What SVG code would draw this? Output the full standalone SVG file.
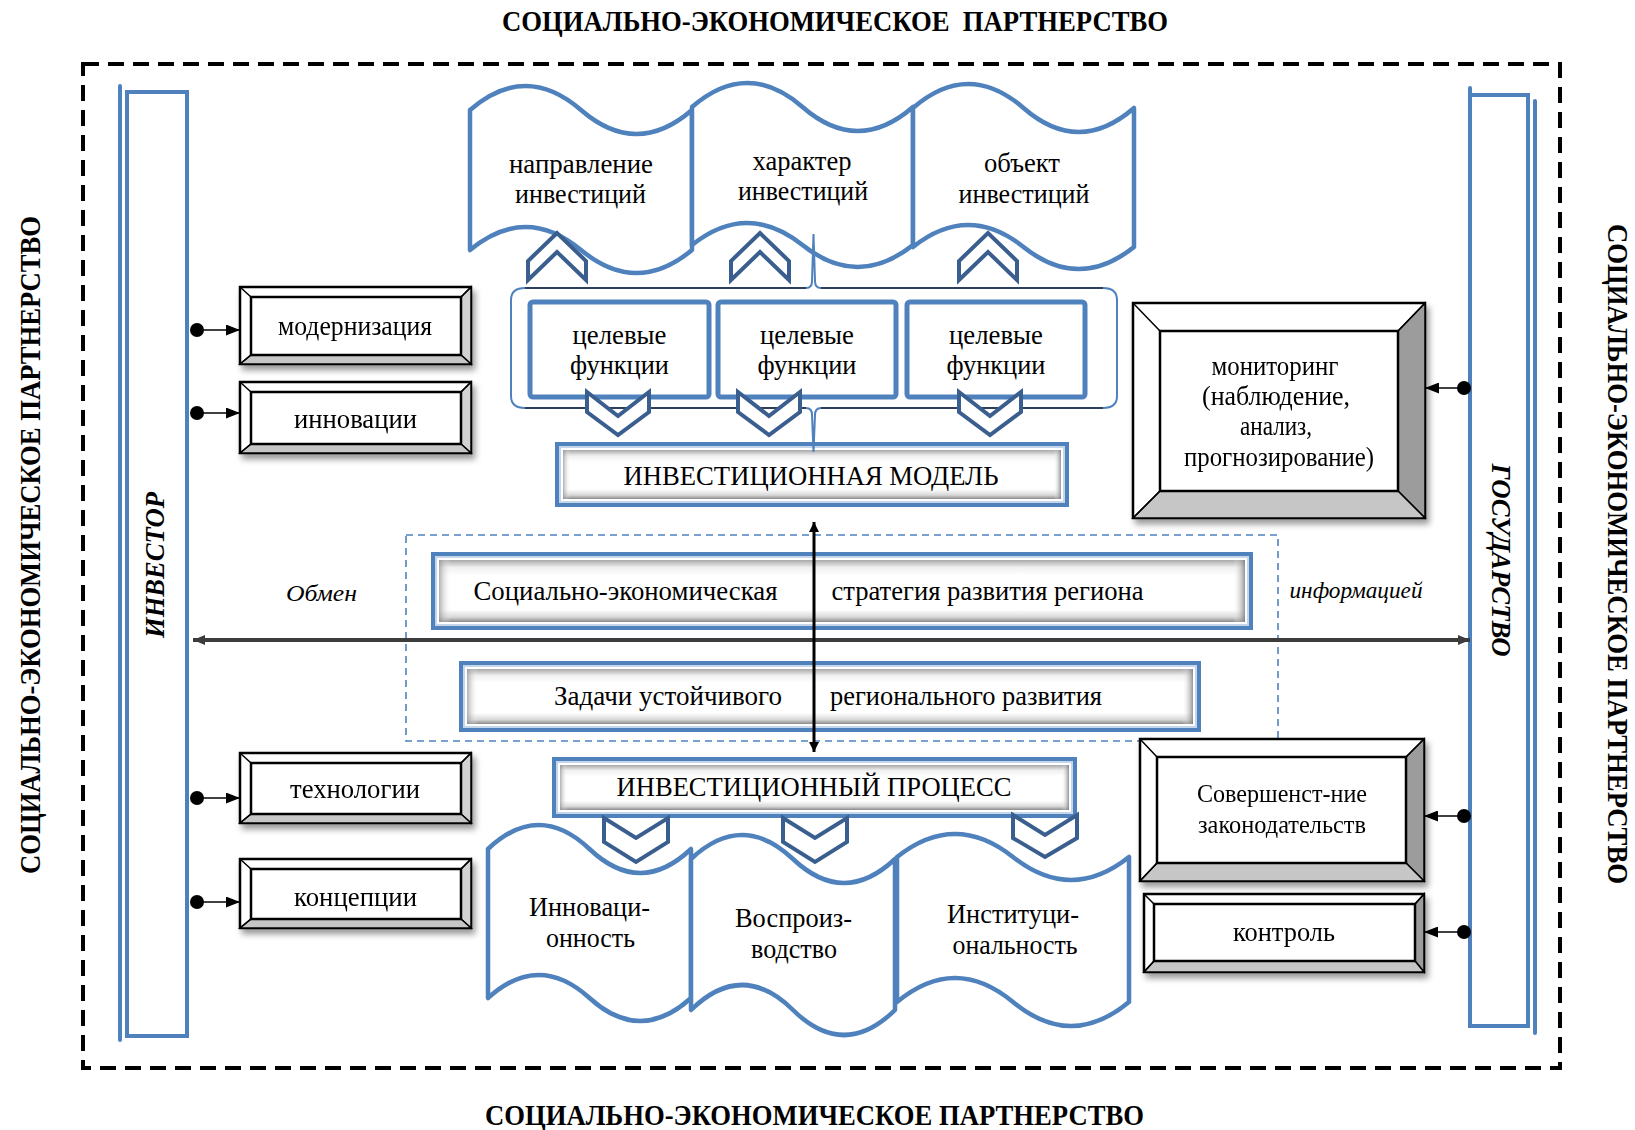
<svg xmlns="http://www.w3.org/2000/svg" width="1635" height="1130" viewBox="0 0 1635 1130">
<defs>
<style>
.tx{font-family:"Liberation Serif","Times New Roman",serif;fill:#000;text-anchor:middle;font-size:28px}
.cap{font-size:27px}
.ttl{font-weight:bold;font-size:29px}
.bit{font-weight:bold;font-style:italic;font-size:27px}
.it{font-style:italic;font-size:23px}
.sm{font-size:25px}
.md{font-size:27px}
.border{fill:none;stroke:#000;stroke-width:4;stroke-dasharray:16 9}
.bar{fill:#fff;stroke:#4f81bd;stroke-width:4}
.barl{fill:none;stroke:#4f81bd;stroke-width:4;stroke-linecap:round}
.wave{fill:#fff;stroke:#4f81bd;stroke-width:4.5;stroke-linejoin:round}
.chev{fill:#fff;stroke:#3a5f8f;stroke-width:4}
.tf{fill:#fff;stroke:#4f81bd;stroke-width:5}
.brace{fill:none;stroke:#2e3f5c;stroke-width:1.8}
.bracetip{fill:none;stroke:#4f81bd;stroke-width:2}
.bo{fill:#fff;stroke:#000;stroke-width:2.5}
.in{fill:#fff;stroke:#000;stroke-width:2.5}
.dg{stroke:#000;stroke-width:1.5;fill:none}
.gl{fill:#d2d2d2;stroke:#000;stroke-width:1.5}
.gb{fill:#c6c6c6;stroke:#000;stroke-width:1.5}
.gd{fill:#9c9c9c;stroke:#000;stroke-width:1.5}
.zone{fill:none;stroke:#4f81bd;stroke-width:1.6;stroke-dasharray:7 5}
.cn{stroke:#000;stroke-width:1.5;fill:none}
.dot{fill:#000}
.ex{stroke:#3c3c3c;stroke-width:4;fill:none}
.vx{stroke:#000;stroke-width:3;fill:none}
</style>
<linearGradient id="gv" x1="0" y1="0" x2="0" y2="1">
<stop offset="0" stop-color="#a8a8a8"/>
<stop offset="0.12" stop-color="#f0f0f0"/>
<stop offset="0.25" stop-color="#fff"/>
<stop offset="0.8" stop-color="#fff"/>
<stop offset="0.92" stop-color="#d8d8d8"/>
<stop offset="1" stop-color="#8a8a8a"/>
</linearGradient>
<linearGradient id="gh" x1="0" y1="0" x2="1" y2="0">
<stop offset="0" stop-color="#8f8f8f" stop-opacity="0.7"/>
<stop offset="0.015" stop-color="#fff" stop-opacity="0"/>
<stop offset="0.985" stop-color="#fff" stop-opacity="0"/>
<stop offset="1" stop-color="#7a7a7a" stop-opacity="0.8"/>
</linearGradient>
<filter id="sh" x="-10%" y="-10%" width="130%" height="140%">
<feDropShadow dx="3" dy="5" stdDeviation="3" flood-color="#000" flood-opacity="0.4"/>
</filter>
<marker id="ah" viewBox="0 0 14 11" refX="14" refY="5.5" markerWidth="14" markerHeight="11" markerUnits="userSpaceOnUse" orient="auto">
<path d="M0 0L14 5.5L0 11z" fill="#000"/>
</marker>
<marker id="ahx" viewBox="0 0 12 10" refX="12" refY="5" markerWidth="12" markerHeight="10" markerUnits="userSpaceOnUse" orient="auto-start-reverse">
<path d="M0 0L12 5L0 10z" fill="#3c3c3c"/>
</marker>
<marker id="ahv" viewBox="0 0 10 10" refX="10" refY="5" markerWidth="10" markerHeight="10" markerUnits="userSpaceOnUse" orient="auto-start-reverse">
<path d="M0 0L10 5L0 10z" fill="#000"/>
</marker>
</defs>

<rect width="1635" height="1130" fill="#fff"/>

<!-- partnership frame and its four captions -->
<g id="partnership">
<rect class="border" x="83" y="64" width="1477" height="1004"/>
<text class="tx ttl" x="835" y="31" textLength="666" lengthAdjust="spacingAndGlyphs" style="white-space:pre">СОЦИАЛЬНО-ЭКОНОМИЧЕСКОЕ  ПАРТНЕРСТВО</text>
<text class="tx ttl" x="814.5" y="1125" textLength="659" lengthAdjust="spacingAndGlyphs">СОЦИАЛЬНО-ЭКОНОМИЧЕСКОЕ ПАРТНЕРСТВО</text>
<text class="tx ttl" transform="translate(40 545) rotate(-90)" textLength="658" lengthAdjust="spacingAndGlyphs">СОЦИАЛЬНО-ЭКОНОМИЧЕСКОЕ ПАРТНЕРСТВО</text>
<text class="tx ttl" transform="translate(1608 554) rotate(90)" textLength="660" lengthAdjust="spacingAndGlyphs">СОЦИАЛЬНО-ЭКОНОМИЧЕСКОЕ ПАРТНЕРСТВО</text>
</g>

<!-- investor scroll -->
<g id="investor">
<rect class="bar" x="127" y="92" width="60" height="944"/>
<line class="barl" x1="120" y1="86" x2="120" y2="1040"/>
<text class="tx bit" transform="translate(164 565) rotate(-90)" textLength="146" lengthAdjust="spacingAndGlyphs">ИНВЕСТОР</text>
</g>

<!-- state scroll -->
<g id="state">
<rect class="bar" x="1470" y="95" width="58" height="931"/>
<line class="barl" x1="1470" y1="88" x2="1470" y2="96"/>
<line class="barl" x1="1535" y1="101" x2="1535" y2="1033"/>
<text class="tx bit" transform="translate(1492 560) rotate(90)" textLength="193" lengthAdjust="spacingAndGlyphs">ГОСУДАРСТВО</text>
</g>

<!-- investment banners (top) -->
<g id="banner-direction">
<path class="wave" d="M470 110Q525.5 62 581 110T692 110L692 250Q636.5 296 581 250T470 250Z"/>
<text class="tx" x="581" y="173" textLength="144" lengthAdjust="spacingAndGlyphs">направление</text>
<text class="tx" x="580.5" y="203" textLength="131" lengthAdjust="spacingAndGlyphs">инвестиций</text>
</g>
<g id="banner-character">
<path class="wave" d="M692 107Q747.25 59 802.5 107T913 107L913 245Q857.75 289 802.5 245T692 245Z"/>
<text class="tx" x="802" y="170" textLength="99" lengthAdjust="spacingAndGlyphs">характер</text>
<text class="tx" x="803" y="200" textLength="130" lengthAdjust="spacingAndGlyphs">инвестиций</text>
</g>
<g id="banner-object">
<path class="wave" d="M913 108Q968.25 60 1023.5 108T1134 108L1134 247Q1078.75 291 1023.5 247T913 247Z"/>
<text class="tx" x="1022" y="172" textLength="76" lengthAdjust="spacingAndGlyphs">объект</text>
<text class="tx" x="1024" y="203" textLength="131" lengthAdjust="spacingAndGlyphs">инвестиций</text>
</g>

<!-- upward chevrons -->
<g id="chevrons-up">
<polygon class="chev" points="528,280 528,261 557,233 586,261 586,280 557,252"/>
<polygon class="chev" points="731,280 731,261 760,233 789,261 789,280 760,252"/>
<polygon class="chev" points="959,280 959,261 988,233 1017,261 1017,280 988,252"/>
</g>

<!-- investment model -->
<g id="model">
<rect x="555" y="442" width="514" height="65" fill="#4f81bd"/>
<rect x="559" y="446" width="506" height="57" fill="#c5d5ea"/>
<rect x="561" y="448" width="502" height="53" fill="#fff"/>
<rect x="563" y="450" width="498" height="49" fill="url(#gv)"/>
<rect x="563" y="450" width="498" height="49" fill="url(#gh)"/>
<text class="tx cap" x="811" y="485" textLength="375" lengthAdjust="spacingAndGlyphs">ИНВЕСТИЦИОННАЯ МОДЕЛЬ</text>
</g>

<!-- brace around the target functions -->
<g id="brace">
<path class="brace" d="M525 288L806 288M821 288L1103 288M525 408L806 408M821 408L1103 408"/>
<path class="bracetip" d="M806 288Q812 288 812 281L813.5 234M821 288Q815 288 815 281L813.5 234"/>
<path class="bracetip" d="M806 408Q812 408 812 415L813.5 452M821 408Q815 408 815 415L813.5 452"/>
<path class="bracetip" d="M525 288Q511 288 511 300L511 396Q511 408 525 408M1103 288Q1117 288 1117 300L1117 396Q1117 408 1103 408"/>
</g>

<!-- target functions -->
<g id="func-1">
<rect class="tf" x="530" y="302" width="179" height="95" rx="3"/>
<text class="tx" x="619.5" y="344" textLength="94" lengthAdjust="spacingAndGlyphs">целевые</text>
<text class="tx" x="619.5" y="374" textLength="99" lengthAdjust="spacingAndGlyphs">функции</text>
</g>
<g id="func-2">
<rect class="tf" x="718" y="302" width="178" height="95" rx="3"/>
<text class="tx" x="807" y="344" textLength="94" lengthAdjust="spacingAndGlyphs">целевые</text>
<text class="tx" x="807" y="374" textLength="99" lengthAdjust="spacingAndGlyphs">функции</text>
</g>
<g id="func-3">
<rect class="tf" x="907" y="302" width="178" height="95" rx="3"/>
<text class="tx" x="996" y="344" textLength="94" lengthAdjust="spacingAndGlyphs">целевые</text>
<text class="tx" x="996" y="374" textLength="99" lengthAdjust="spacingAndGlyphs">функции</text>
</g>

<!-- downward chevrons under the functions -->
<g id="chevrons-down-1">
<polygon class="chev" points="587,392 618,416 649,392 649,412 618,435 587,412"/>
<polygon class="chev" points="738,392 769,416 800,392 800,412 769,435 738,412"/>
<polygon class="chev" points="959,392 990,416 1021,392 1021,412 990,435 959,412"/>
</g>

<!-- strategy zone -->
<g id="zone">
<rect class="zone" x="406" y="535" width="872" height="206"/>
</g>
<g id="strategy">
<rect x="431" y="552" width="822" height="78" fill="#4f81bd"/>
<rect x="435" y="556" width="814" height="70" fill="#c5d5ea"/>
<rect x="437" y="558" width="810" height="66" fill="#fff"/>
<rect x="439" y="560" width="806" height="62" fill="url(#gv)"/>
<rect x="439" y="560" width="806" height="62" fill="url(#gh)"/>
<text class="tx" x="625.5" y="600" textLength="304" lengthAdjust="spacingAndGlyphs">Социально-экономическая</text>
<text class="tx" x="987.5" y="600" textLength="312" lengthAdjust="spacingAndGlyphs">стратегия развития региона</text>
</g>
<g id="tasks">
<rect x="459" y="661" width="742" height="71" fill="#4f81bd"/>
<rect x="463" y="665" width="734" height="63" fill="#c5d5ea"/>
<rect x="465" y="667" width="730" height="59" fill="#fff"/>
<rect x="467" y="669" width="726" height="55" fill="url(#gv)"/>
<rect x="467" y="669" width="726" height="55" fill="url(#gh)"/>
<text class="tx" x="668" y="705" textLength="228" lengthAdjust="spacingAndGlyphs">Задачи устойчивого</text>
<text class="tx" x="966" y="705" textLength="272" lengthAdjust="spacingAndGlyphs">регионального развития</text>
</g>
<text class="tx it" x="321.5" y="601" textLength="71" lengthAdjust="spacingAndGlyphs">Обмен</text>
<text class="tx it" x="1356" y="598" textLength="133" lengthAdjust="spacingAndGlyphs">информацией</text>

<!-- investment process -->
<g id="process">
<rect x="552" y="757" width="525" height="61" fill="#4f81bd"/>
<rect x="556" y="761" width="517" height="53" fill="#c5d5ea"/>
<rect x="558" y="763" width="513" height="49" fill="#fff"/>
<rect x="560" y="765" width="509" height="45" fill="url(#gv)"/>
<rect x="560" y="765" width="509" height="45" fill="url(#gh)"/>
<text class="tx cap" x="814" y="796" textLength="395" lengthAdjust="spacingAndGlyphs">ИНВЕСТИЦИОННЫЙ ПРОЦЕСС</text>
</g>

<!-- process banners (bottom) -->
<g id="banner-innovation">
<path class="wave" d="M488 849Q538.75 801 589.5 849T691 849L691 998Q640.25 1044 589.5 998T488 998Z"/>
<text class="tx" x="589.5" y="916" textLength="121" lengthAdjust="spacingAndGlyphs">Инноваци-</text>
<text class="tx" x="590.5" y="947" textLength="89" lengthAdjust="spacingAndGlyphs">онность</text>
</g>
<g id="banner-reproduction">
<path class="wave" d="M691 859Q742 811 793 859T895 859L895 1010Q844 1060 793 1010T691 1010Z"/>
<text class="tx" x="793.5" y="927" textLength="117" lengthAdjust="spacingAndGlyphs">Воспроиз-</text>
<text class="tx" x="794" y="958" textLength="86" lengthAdjust="spacingAndGlyphs">водство</text>
</g>
<g id="banner-institution">
<path class="wave" d="M897 857Q955 811 1013 857T1129 857L1129 1002Q1071 1050 1013 1002T897 1002Z"/>
<text class="tx" x="1013" y="923" textLength="132" lengthAdjust="spacingAndGlyphs">Институци-</text>
<text class="tx" x="1015" y="954" textLength="125" lengthAdjust="spacingAndGlyphs">ональность</text>
</g>

<!-- downward chevrons under the process -->
<g id="chevrons-down-2">
<polygon class="chev" points="604,818 636,838 668,818 668,842 636,862 604,842"/>
<polygon class="chev" points="783,818 815,838 847,818 847,842 815,862 783,842"/>
<polygon class="chev" points="1013,815 1045,835 1077,815 1077,838 1045,857 1013,838"/>
</g>

<!-- investor instruments -->
<g id="modernization" filter="url(#sh)">
<rect class="bo" x="240" y="287" width="231" height="77"/>
<polygon class="gl" points="471,287 471,364 461,355 461,297"/>
<polygon class="gb" points="240,364 471,364 461,355 251,355"/>
<path class="dg" d="M240 287L251 297M471 287L461 297M240 364L251 355"/>
<rect class="in" x="251" y="297" width="210" height="58"/>
<text class="tx" x="355" y="335" textLength="154" lengthAdjust="spacingAndGlyphs">модернизация</text>
</g>
<g id="innovations" filter="url(#sh)">
<rect class="bo" x="240" y="382" width="231" height="71"/>
<polygon class="gl" points="471,382 471,453 461,444 461,392"/>
<polygon class="gb" points="240,453 471,453 461,444 251,444"/>
<path class="dg" d="M240 382L251 392M471 382L461 392M240 453L251 444"/>
<rect class="in" x="251" y="392" width="210" height="52"/>
<text class="tx" x="355.5" y="428" textLength="123" lengthAdjust="spacingAndGlyphs">инновации</text>
</g>
<g id="technologies" filter="url(#sh)">
<rect class="bo" x="240" y="753" width="231" height="70"/>
<polygon class="gl" points="471,753 471,823 461,814 461,763"/>
<polygon class="gb" points="240,823 471,823 461,814 251,814"/>
<path class="dg" d="M240 753L251 763M471 753L461 763M240 823L251 814"/>
<rect class="in" x="251" y="763" width="210" height="51"/>
<text class="tx" x="355" y="798" textLength="130" lengthAdjust="spacingAndGlyphs">технологии</text>
</g>
<g id="concepts" filter="url(#sh)">
<rect class="bo" x="240" y="859" width="231" height="69"/>
<polygon class="gl" points="471,859 471,928 461,919 461,869"/>
<polygon class="gb" points="240,928 471,928 461,919 251,919"/>
<path class="dg" d="M240 859L251 869M471 859L461 869M240 928L251 919"/>
<rect class="in" x="251" y="869" width="210" height="50"/>
<text class="tx" x="355.5" y="906" textLength="123" lengthAdjust="spacingAndGlyphs">концепции</text>
</g>

<!-- state instruments -->
<g id="monitoring" filter="url(#sh)">
<rect class="bo" x="1133" y="303" width="292" height="215"/>
<polygon class="gd" points="1425,303 1425,518 1398,491 1398,331"/>
<polygon class="gb" points="1133,518 1425,518 1398,491 1160,491"/>
<path class="dg" d="M1133 303L1160 331M1425 303L1398 331M1133 518L1160 491"/>
<rect class="in" x="1160" y="331" width="238" height="160"/>
<text class="tx md" x="1275" y="375" textLength="127" lengthAdjust="spacingAndGlyphs">мониторинг</text>
<text class="tx md" x="1276" y="405" textLength="148" lengthAdjust="spacingAndGlyphs">(наблюдение,</text>
<text class="tx md" x="1276" y="435" textLength="72" lengthAdjust="spacingAndGlyphs">анализ,</text>
<text class="tx md" x="1279" y="466" textLength="190" lengthAdjust="spacingAndGlyphs">прогнозирование)</text>
</g>
<g id="legislation" filter="url(#sh)">
<rect class="bo" x="1140" y="739" width="284" height="142"/>
<polygon class="gd" points="1424,739 1424,881 1406,863 1406,757"/>
<polygon class="gb" points="1140,881 1424,881 1406,863 1157,863"/>
<path class="dg" d="M1140 739L1157 757M1424 739L1406 757M1140 881L1157 863"/>
<rect class="in" x="1157" y="757" width="249" height="106"/>
<text class="tx sm" x="1282" y="802" textLength="170" lengthAdjust="spacingAndGlyphs">Совершенст-ние</text>
<text class="tx sm" x="1282" y="833" textLength="168" lengthAdjust="spacingAndGlyphs">законодательств</text>
</g>
<g id="control" filter="url(#sh)">
<rect class="bo" x="1144" y="894" width="280" height="78"/>
<polygon class="gd" points="1424,894 1424,972 1415,961 1415,904"/>
<polygon class="gb" points="1144,972 1424,972 1415,961 1154,961"/>
<path class="dg" d="M1144 894L1154 904M1424 894L1415 904M1144 972L1154 961"/>
<rect class="in" x="1154" y="904" width="261" height="57"/>
<text class="tx" x="1284" y="941" textLength="102" lengthAdjust="spacingAndGlyphs">контроль</text>
</g>

<!-- connectors -->
<g id="connectors">
<circle class="dot" cx="197" cy="330" r="7"/>
<line class="cn" x1="203" y1="330" x2="240" y2="330" marker-end="url(#ah)"/>
<circle class="dot" cx="197" cy="413" r="7"/>
<line class="cn" x1="203" y1="413" x2="240" y2="413" marker-end="url(#ah)"/>
<circle class="dot" cx="197" cy="798" r="7"/>
<line class="cn" x1="203" y1="798" x2="240" y2="798" marker-end="url(#ah)"/>
<circle class="dot" cx="197" cy="902" r="7"/>
<line class="cn" x1="203" y1="902" x2="240" y2="902" marker-end="url(#ah)"/>
<circle class="dot" cx="1464" cy="388" r="7"/>
<line class="cn" x1="1458" y1="388" x2="1425" y2="388" marker-end="url(#ah)"/>
<circle class="dot" cx="1464" cy="816" r="7"/>
<line class="cn" x1="1458" y1="816" x2="1424" y2="816" marker-end="url(#ah)"/>
<circle class="dot" cx="1464" cy="932" r="7"/>
<line class="cn" x1="1458" y1="932" x2="1424" y2="932" marker-end="url(#ah)"/>
<line class="ex" x1="193" y1="640" x2="1470" y2="640" marker-start="url(#ahx)" marker-end="url(#ahx)"/>
<line class="vx" x1="814" y1="522" x2="814" y2="752" marker-start="url(#ahv)" marker-end="url(#ahv)"/>
</g>
</svg>
